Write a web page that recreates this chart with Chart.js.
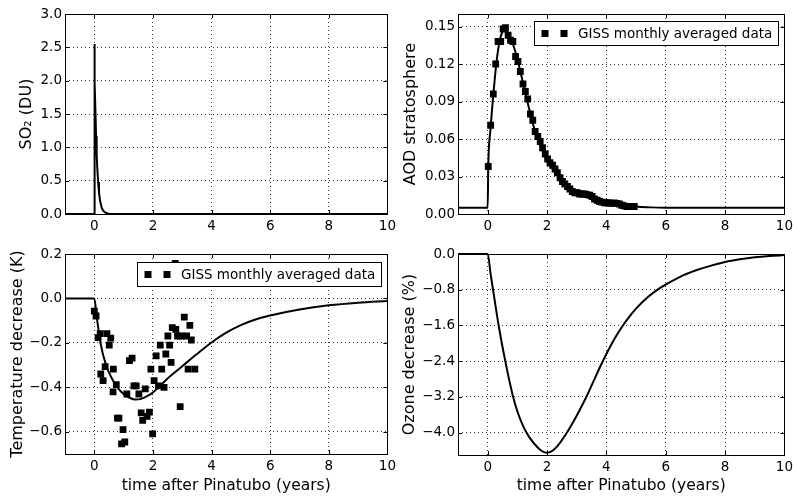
<!DOCTYPE html>
<html>
<head>
<meta charset="utf-8">
<script src="https://cdn.jsdelivr.net/npm/chart.js@4.4.0/dist/chart.umd.min.js"></script>
<style>
  body { margin: 0; background: #fff; }
  #wrap { position: relative; width: 797px; height: 497px; }
  canvas { position: absolute; }
</style>
</head>
<body>
<div id="wrap">
  <canvas id="so2" width="400" height="240" style="left:0;top:0"></canvas>
  <canvas id="aod" width="397" height="240" style="left:400px;top:0"></canvas>
  <canvas id="temp" width="400" height="257" style="left:0;top:240px"></canvas>
  <canvas id="ozone" width="397" height="257" style="left:400px;top:240px"></canvas>
</div>
<script>
// time axis (years after Pinatubo)
const xTicks = [0, 2, 4, 6, 8, 10];

// SO2 column (model)
const so2X = [-1, 0, 0, 0.02, 0.04, 0.06, 0.08, 0.10, 0.13, 0.16, 0.20, 0.25, 0.30, 0.40, 0.50, 0.70, 10];
const so2Y = [0, 0, 2.55, 1.97, 1.52, 1.17, 0.90, 0.70, 0.48, 0.32, 0.19, 0.10, 0.05, 0.014, 0.004, 0, 0];
const so2Ticks = [0, 0.5, 1.0, 1.5, 2.0, 2.5, 3.0];

// stratospheric AOD (model + GISS)
const aodModelX = [-1, 0, 0.02, 0.1, 0.2, 0.3, 0.4, 0.5, 0.6, 0.7, 0.85, 1.0, 1.2, 1.4, 1.6, 1.8, 2.0, 2.25, 2.5, 2.75, 3.0, 3.5, 4.0, 4.5, 5.0, 5.5, 6, 10];
const aodModelY = [0.005, 0.005, 0.038, 0.069, 0.098, 0.122, 0.138, 0.146, 0.149, 0.144, 0.136, 0.124, 0.104, 0.084, 0.066, 0.053, 0.043, 0.034, 0.027, 0.021, 0.018, 0.0145, 0.010, 0.0085, 0.006, 0.0053, 0.005, 0.005];
const aodObsX = [0.02, 0.10, 0.19, 0.27, 0.35, 0.44, 0.52, 0.60, 0.69, 0.77, 0.85, 0.94, 1.02, 1.10, 1.19, 1.27, 1.35, 1.44, 1.52, 1.60,
  1.69, 1.77, 1.85, 1.94, 2.02, 2.10, 2.19, 2.27, 2.35, 2.44, 2.52, 2.60, 2.69, 2.77, 2.85, 2.94, 3.02, 3.10, 3.19, 3.27,
  3.35, 3.44, 3.52, 3.60, 3.69, 3.77, 3.85, 3.94, 4.02, 4.10, 4.19, 4.27, 4.35, 4.44, 4.52, 4.60, 4.69, 4.77, 4.85, 4.94];
const aodObsY = [0.038, 0.071, 0.096, 0.120, 0.138, 0.138, 0.148, 0.149, 0.143, 0.139, 0.138, 0.126, 0.122, 0.114, 0.104, 0.098, 0.092, 0.080, 0.075, 0.066,
  0.062, 0.058, 0.053, 0.048, 0.044, 0.041, 0.039, 0.036, 0.033, 0.029, 0.026, 0.024, 0.022, 0.020, 0.018, 0.017, 0.017, 0.016, 0.016, 0.016,
  0.0155, 0.015, 0.014, 0.012, 0.011, 0.010, 0.0095, 0.009, 0.009, 0.0088, 0.0085, 0.0088, 0.0085, 0.008, 0.007, 0.0065, 0.006, 0.006, 0.006, 0.006];
const aodTicks = [0, 0.03, 0.06, 0.09, 0.12, 0.15];

// temperature decrease (model + GISS)
const tempModelX = [-1, 0, 0.08, 0.21, 0.4, 0.6, 0.79, 1.0, 1.2, 1.4, 1.6, 1.8, 2.0, 2.19, 2.5, 3.0, 3.5, 4.0, 4.5, 5.0, 5.5, 6, 7, 8, 9, 10];
const tempModelY = [0, 0, -0.08, -0.2, -0.3, -0.36, -0.4, -0.43, -0.447, -0.455, -0.452, -0.44, -0.423, -0.40, -0.36, -0.305, -0.25, -0.198, -0.154, -0.12, -0.095, -0.077, -0.05, -0.031, -0.019, -0.011];
const tempObsX = [0.0, 0.06, 0.13, 0.20, 0.22, 0.30, 0.37, 0.43, 0.51, 0.56, 0.64, 0.65, 0.75, 0.79, 0.84, 0.93, 0.98, 1.04, 1.11, 1.20,
  1.29, 1.35, 1.43, 1.52, 1.60, 1.65, 1.74, 1.80, 1.88, 1.93, 1.99, 2.04, 2.11, 2.19, 2.25, 2.30, 2.38, 2.44, 2.51, 2.57,
  2.62, 2.66, 2.76, 2.78, 2.84, 2.93, 2.98, 3.07, 3.15, 3.20, 3.26, 3.31, 3.43];
const tempObsY = [-0.057, -0.079, -0.176, -0.158, -0.34, -0.37, -0.307, -0.158, -0.21, -0.179, -0.42, -0.318, -0.388, -0.539, -0.539, -0.654, -0.59, -0.646, -0.43, -0.28,
  -0.269, -0.393, -0.393, -0.43, -0.515, -0.549, -0.407, -0.531, -0.512, -0.318, -0.609, -0.37, -0.258, -0.393, -0.21, -0.318, -0.4, -0.25, -0.169, -0.21,
  -0.288, -0.131, 0.158, -0.139, -0.169, -0.487, -0.169, -0.084, -0.169, -0.318, -0.121, -0.187, -0.318];
const tempTicks = [-0.6, -0.4, -0.2, 0.0, 0.2];

// ozone decrease (model)
const ozoneX = [-1, 0, 0.1, 0.2, 0.37, 0.6, 0.84, 1.0, 1.2, 1.4, 1.6, 1.8, 1.97, 2.15, 2.35, 2.64, 3.0, 3.34, 3.6, 3.85, 4.1, 4.3, 4.5, 4.75,
  5.0, 5.4, 5.8, 6.5, 7.0, 7.5, 8.0, 8.5, 9.0, 9.5, 10];
const ozoneY = [0, 0, -0.45, -0.88, -1.6, -2.42, -3.15, -3.52, -3.86, -4.1, -4.27, -4.4, -4.45, -4.42, -4.3, -4.03, -3.62, -3.18, -2.8, -2.44, -2.11, -1.87, -1.656, -1.424,
  -1.224, -0.964, -0.764, -0.505, -0.37, -0.265, -0.18, -0.12, -0.075, -0.045, -0.025];
const ozoneTicks = [-4.0, -3.2, -2.4, -1.6, -0.8, 0.0];

const FONT = '"DejaVu Sans", sans-serif';
Chart.defaults.font.family = FONT;
Chart.defaults.color = '#000';

function pts(xs, ys) {
    return xs.map((x, i) => ({ x: x, y: ys[i] }));
}

function modelLine(xs, ys, smooth) {
    return {
        data: pts(xs, ys), showLine: true, borderColor: '#000', borderWidth: 2,
        pointRadius: 0, tension: 0, clip: false,
        cubicInterpolationMode: smooth ? 'monotone' : 'default'
    };
}

function obsPoints(xs, ys) {
    return {
        label: 'GISS monthly averaged data', data: pts(xs, ys), showLine: false,
        pointStyle: 'rect', pointRadius: 4.8, borderWidth: 0, backgroundColor: '#000'
    };
}

// box round the axes with inward ticks, like matplotlib
const framePlugin = {
    id: 'frame',
    afterDatasetsDraw(chart) {
        const { ctx, chartArea: a, scales: { x, y } } = chart;
        ctx.save();
        ctx.strokeStyle = '#000';
        ctx.lineWidth = 1;
        ctx.beginPath();
        x.ticks.forEach(t => {
            const px = Math.round(x.getPixelForValue(t.value)) + 0.5;
            ctx.moveTo(px, a.bottom); ctx.lineTo(px, a.bottom - 4);
            ctx.moveTo(px, a.top); ctx.lineTo(px, a.top + 4);
        });
        y.ticks.forEach(t => {
            const py = Math.round(y.getPixelForValue(t.value)) + 0.5;
            ctx.moveTo(a.left, py); ctx.lineTo(a.left + 4, py);
            ctx.moveTo(a.right, py); ctx.lineTo(a.right - 4, py);
        });
        ctx.stroke();
        ctx.strokeRect(Math.round(a.left) + 0.5, Math.round(a.top) + 0.5,
            Math.round(a.right - a.left), Math.round(a.bottom - a.top));
        ctx.restore();
    }
};

// legend box in the upper right corner of the axes
const legendPlugin = {
    id: 'giss',
    afterDatasetsDraw(chart, args, opts) {
        if (!opts.show) return;
        const ds = chart.data.datasets[opts.index];
        const { ctx, chartArea: a } = chart;
        ctx.save();
        ctx.font = '13.5px ' + FONT;
        const tw = ctx.measureText(ds.label).width;
        const w = Math.round(44 + tw + 6), h = 24;
        const left = Math.round(a.right - 6 - w), top = Math.round(a.top + opts.top);
        ctx.fillStyle = '#fff';
        ctx.fillRect(left, top, w, h);
        ctx.strokeStyle = '#000';
        ctx.lineWidth = 1;
        ctx.strokeRect(left + 0.5, top + 0.5, w, h);
        ctx.fillStyle = '#000';
        [11, 30].forEach(dx => ctx.fillRect(left + dx - 3.5, top + h / 2 - 3, 7, 7));
        ctx.textBaseline = 'middle';
        ctx.fillText(ds.label, left + 44, top + h / 2 + 1);
        ctx.restore();
    }
};

function fmt(v, dec) {
    return v.toFixed(dec).replace('-', '\u2212');
}

function panel(id, o) {
    return new Chart(document.getElementById(id), {
        type: 'scatter',
        data: { datasets: o.datasets },
        options: {
            responsive: false,
            animation: false,
            devicePixelRatio: 1,
            layout: { padding: { left: 0, right: o.padRight, top: 14, bottom: 0 } },
            plugins: {
                legend: { display: false },
                tooltip: { enabled: false },
                giss: o.legend || { show: false }
            },
            scales: {
                x: {
                    type: 'linear', min: -1, max: 10,
                    afterBuildTicks: s => { s.ticks = xTicks.map(v => ({ value: v })); },
                    afterFit: s => { s.height = o.xHeight; },
                    grid: { color: 'rgba(0,0,0,0.8)', lineWidth: 1, drawTicks: false },
                    border: { display: false, dash: [1, 3] },
                    ticks: { padding: 4, font: { size: 13.5 }, maxRotation: 0, autoSkip: false, callback: v => String(v) },
                    title: {
                        display: !!o.xTitle, text: o.xTitle || '',
                        font: { size: 15.5 }, padding: { top: 2, bottom: 2 }
                    }
                },
                y: {
                    type: 'linear', min: o.yMin, max: o.yMax,
                    afterBuildTicks: s => { s.ticks = o.yTicks.map(v => ({ value: v })); },
                    afterFit: s => { s.width = o.yWidth; },
                    grid: { color: 'rgba(0,0,0,0.8)', lineWidth: 1, drawTicks: false },
                    border: { display: false, dash: [1, 3] },
                    ticks: { padding: 3, font: { size: 13.5 }, autoSkip: false, callback: v => fmt(v, o.dec) },
                    title: {
                        display: true, text: o.yTitle,
                        font: { size: 16 }, padding: { top: o.titlePad, bottom: 0 }
                    }
                }
            }
        },
        plugins: [framePlugin, legendPlugin]
    });
}

panel('so2', {
    datasets: [modelLine(so2X, so2Y, false)],
    yMin: 0, yMax: 3.0, yTicks: so2Ticks, dec: 1,
    yTitle: 'SO\u2082 (DU)', titlePad: 17.4, yWidth: 65, padRight: 8, xHeight: 26
});

panel('aod', {
    datasets: [modelLine(aodModelX, aodModelY, true), obsPoints(aodObsX, aodObsY)],
    yMin: 0, yMax: 0.16, yTicks: aodTicks, dec: 2,
    yTitle: 'AOD stratosphere', titlePad: 1.4, yWidth: 58, padRight: 11, xHeight: 26,
    legend: { show: true, index: 1, top: 7 }
});

panel('temp', {
    datasets: [modelLine(tempModelX, tempModelY, true), obsPoints(tempObsX, tempObsY)],
    yMin: -0.7, yMax: 0.2, yTicks: tempTicks, dec: 1,
    yTitle: 'Temperature decrease (K)', titlePad: 7.9, yWidth: 65, padRight: 8, xHeight: 43,
    xTitle: 'time after Pinatubo (years)',
    legend: { show: true, index: 1, top: 8 }
});

panel('ozone', {
    datasets: [modelLine(ozoneX, ozoneY, true)],
    yMin: -4.5, yMax: 0, yTicks: ozoneTicks, dec: 1,
    yTitle: 'Ozone decrease (%)', titlePad: 0, yWidth: 58, padRight: 11, xHeight: 42,
    xTitle: 'time after Pinatubo (years)'
});
</script>
</body>
</html>
